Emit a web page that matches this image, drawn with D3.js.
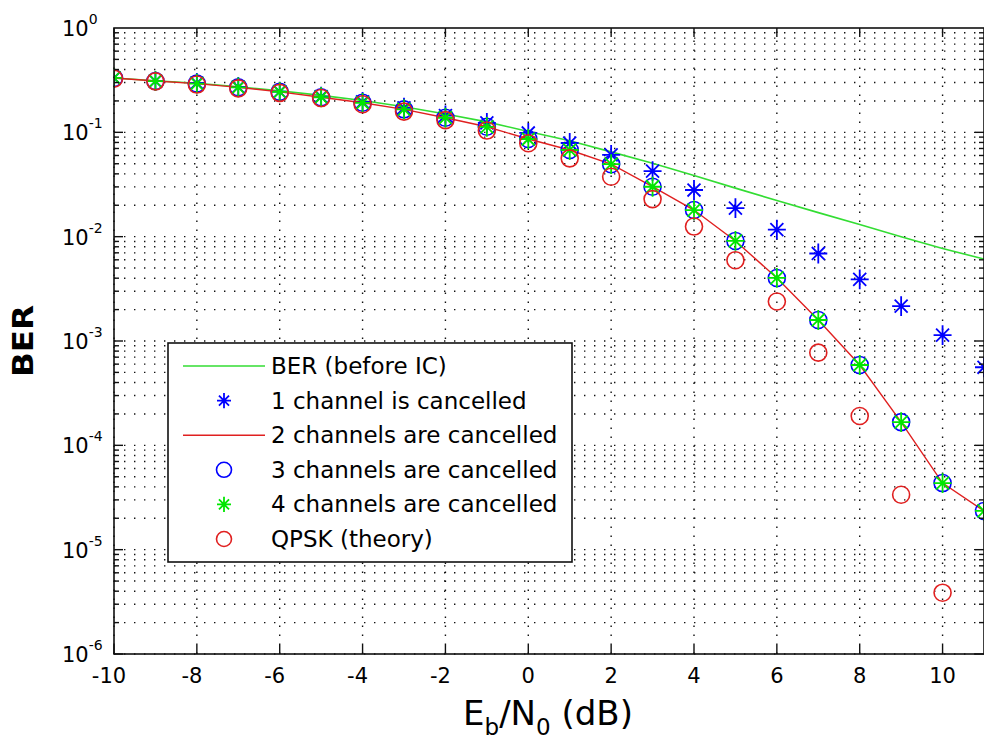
<!DOCTYPE html>
<html>
<head>
<meta charset="utf-8">
<script src="https://cdn.jsdelivr.net/npm/d3@7"></script>
<style>
  html, body { margin: 0; padding: 0; background: #fff; }
  svg { display: block; }
  text { font-family: "DejaVu Sans", sans-serif; fill: #000; }
</style>
</head>
<body>
<svg id="chart" width="984" height="746"></svg>
<script>
// ---------------- data ----------------
const ebn0 = [-10, -9, -8, -7, -6, -5, -4, -3, -2, -1, 0, 1, 2, 3, 4, 5, 6, 7, 8, 9, 10, 11];
const berBeforeIC = [0.332, 0.312, 0.295, 0.273, 0.250, 0.226, 0.202, 0.176, 0.150, 0.126, 0.102,
                     0.083, 0.065, 0.0505, 0.0385, 0.0292, 0.0222, 0.0170, 0.0131, 0.0100, 0.0077, 0.0061];
const ber1Cancelled = [0.332, 0.310, 0.297, 0.272, 0.246, 0.220, 0.196, 0.172, 0.145, 0.123, 0.0986,
                       0.079, 0.0607, 0.0425, 0.028, 0.0188, 0.0117, 0.0069, 0.0039, 0.00216, 0.00114, 0.00056];
const ber2Cancelled = [0.332, 0.310, 0.293, 0.270, 0.244, 0.217, 0.192, 0.166, 0.138, 0.113, 0.0863,
                       0.0677, 0.0495, 0.0301, 0.0180, 0.0091, 0.00402, 0.00159, 0.000589, 0.000167, 0.0000435, 0.0000235];
const ber3Cancelled = [0.332, 0.310, 0.293, 0.270, 0.244, 0.217, 0.192, 0.166, 0.138, 0.113, 0.0863,
                       0.0677, 0.0495, 0.0301, 0.0180, 0.0091, 0.00402, 0.00159, 0.000589, 0.000167, 0.0000435, 0.0000235];
const ber4Cancelled = [0.332, 0.310, 0.293, 0.270, 0.244, 0.217, 0.192, 0.166, 0.138, 0.113, 0.0863,
                       0.0677, 0.0495, 0.0301, 0.0180, 0.0091, 0.00402, 0.00159, 0.000589, 0.000167, 0.0000435, 0.0000235];
const ebn0Theory = [-10, -9, -8, -7, -6, -5, -4, -3, -2, -1, 0, 1, 2, 3, 4, 5, 6, 7, 8, 9, 10];
const qpskTheory = [0.327, 0.308, 0.287, 0.264, 0.239, 0.213, 0.186, 0.158, 0.131, 0.104, 0.0786,
                    0.0563, 0.0375, 0.0229, 0.0125, 0.00595, 0.00239, 0.000773, 0.000191, 0.0000336, 0.00000387];

const xTickValues = [-10, -8, -6, -4, -2, 0, 2, 4, 6, 8, 10];
const yDecadeExponents = [0, -1, -2, -3, -4, -5, -6];
const legendLabels = ["BER (before IC)", "1 channel is cancelled", "2 channels are cancelled",
                      "3 channels are cancelled", "4 channels are cancelled", "QPSK (theory)"];
const xLabelParts = [["E", 0], ["b", 1], ["/N", 0], ["0", 1], [" (dB)", 0]];
const yLabel = "BER";

// ---------------- layout ----------------
const L = 114, R = 984, T = 28, B = 654;
const svg = d3.select("#chart");
const x = d3.scaleLinear().domain([-10, 11]).range([L, R]);
const y = d3.scaleLog().domain([1e-6, 1]).range([B, T]);

const GREEN_LINE = "#33dd33", RED = "#e02020", BLUE = "#0000ff", GREEN = "#00e600";

// ---------------- grid ----------------
const grid = svg.append("g");
const minorY = [];
for (let e = -6; e < 0; e++) for (let m = 1; m <= 9; m++) minorY.push(m * Math.pow(10, e));
grid.selectAll("line.h").data(minorY).enter().append("line")
  .attr("x1", L).attr("x2", R).attr("y1", d => y(d)).attr("y2", d => y(d))
  .attr("stroke", "#111").attr("stroke-width", 1.4).attr("stroke-dasharray", "1.4,8.6");
grid.selectAll("line.v").data(xTickValues).enter().append("line")
  .attr("y1", B).attr("y2", T).attr("x1", d => x(d)).attr("x2", d => x(d))
  .attr("stroke", "#111").attr("stroke-width", 1.4).attr("stroke-dasharray", "1.4,7.6");

// ---------------- plot data ----------------
svg.append("clipPath").attr("id", "clip").append("rect")
  .attr("x", L).attr("y", T).attr("width", R - L).attr("height", B - T);
const plot = svg.append("g").attr("clip-path", "url(#clip)");

const lineGen = d3.line().x(d => x(d[0])).y(d => y(d[1]));
const zip = (xs, ys) => xs.map((v, i) => [v, ys[i]]);

function starPath(r) {
  const d = r * 0.72;
  return `M${-r},0L${r},0M0,${-r * 1.1}L0,${r * 1.1}M${-d},${-d}L${d},${d}M${-d},${d}L${d},${-d}`;
}
function drawStars(g, pts, color) {
  g.selectAll(null).data(pts).enter().append("path")
    .attr("d", starPath(9))
    .attr("transform", d => `translate(${x(d[0])},${y(d[1])})`)
    .attr("fill", "none").attr("stroke", color).attr("stroke-width", 1.8);
}
function drawCircles(g, pts, color) {
  g.selectAll(null).data(pts).enter().append("circle")
    .attr("cx", d => x(d[0])).attr("cy", d => y(d[1])).attr("r", 8.5)
    .attr("fill", "none").attr("stroke", color).attr("stroke-width", 1.6);
}

plot.append("path").datum(zip(ebn0, berBeforeIC)).attr("d", lineGen)
  .attr("fill", "none").attr("stroke", GREEN_LINE).attr("stroke-width", 1.6);
drawStars(plot.append("g"), zip(ebn0, ber1Cancelled), BLUE);
plot.append("path").datum(zip(ebn0, ber2Cancelled)).attr("d", lineGen)
  .attr("fill", "none").attr("stroke", RED).attr("stroke-width", 1.4);
drawCircles(plot.append("g"), zip(ebn0, ber3Cancelled), BLUE);
drawStars(plot.append("g"), zip(ebn0, ber4Cancelled), GREEN);
drawCircles(plot.append("g"), zip(ebn0Theory, qpskTheory), RED);

// ---------------- axes box & ticks ----------------
const ax = svg.append("g");
ax.append("rect").attr("x", L).attr("y", T).attr("width", R - L).attr("height", B - T)
  .attr("fill", "none").attr("stroke", "#111").attr("stroke-width", 1.6);

xTickValues.forEach(v => {
  ax.append("line").attr("x1", x(v)).attr("x2", x(v)).attr("y1", B).attr("y2", B - 9)
    .attr("stroke", "#111").attr("stroke-width", 1.4);
  ax.append("line").attr("x1", x(v)).attr("x2", x(v)).attr("y1", T).attr("y2", T + 9)
    .attr("stroke", "#111").attr("stroke-width", 1.4);
  ax.append("text").attr("x", x(v) + (v < 0 ? -5 : 0)).attr("y", B + 29)
    .attr("text-anchor", "middle").attr("font-size", 21).text(String(v));
});
minorY.forEach(v => {
  const isMajor = Math.abs(Math.log10(v) - Math.round(Math.log10(v))) < 1e-9;
  const len = isMajor ? 9 : 5;
  ax.append("line").attr("x1", L).attr("x2", L + len).attr("y1", y(v)).attr("y2", y(v))
    .attr("stroke", "#111").attr("stroke-width", 1.4);
  ax.append("line").attr("x1", R).attr("x2", R - len).attr("y1", y(v)).attr("y2", y(v))
    .attr("stroke", "#111").attr("stroke-width", 1.4);
});
yDecadeExponents.forEach(e => {
  const t = ax.append("text").attr("x", 62).attr("y", y(Math.pow(10, e)) + 8).attr("font-size", 21);
  t.append("tspan").text("10");
  t.append("tspan").attr("font-size", 14).attr("dy", -12).text(String(e));
});

// ---------------- axis labels ----------------
const xl = svg.append("text").attr("x", 548).attr("y", 725).attr("text-anchor", "middle")
  .attr("font-size", 34);
let prevSub = 0;
xLabelParts.forEach(([s, sub]) => {
  const ts = xl.append("tspan").text(s);
  if (sub) ts.attr("font-size", 23);
  const dy = (sub ? 10 : 0) - (prevSub ? 10 : 0);
  if (dy) ts.attr("dy", dy);
  prevSub = sub;
});
svg.append("text").attr("transform", "translate(33,341) rotate(-90)")
  .attr("text-anchor", "middle").attr("font-size", 29).attr("font-weight", "bold")
  .attr("textLength", 72).attr("lengthAdjust", "spacingAndGlyphs").text(yLabel);

// ---------------- legend ----------------
const lg = svg.append("g");
lg.append("rect").attr("x", 168).attr("y", 343).attr("width", 404).attr("height", 219)
  .attr("fill", "#fff").attr("stroke", "#111").attr("stroke-width", 1.6);
const rowY = i => 366 + i * 34.6;
const legendKinds = [["line", GREEN_LINE], ["star", BLUE], ["line", RED],
                     ["circle", BLUE], ["star", GREEN], ["circle", RED]];
legendKinds.forEach(([kind, color], i) => {
  const cy = rowY(i);
  if (kind === "line") {
    lg.append("line").attr("x1", 183).attr("x2", 265).attr("y1", cy).attr("y2", cy)
      .attr("stroke", color).attr("stroke-width", 1.6);
  } else if (kind === "star") {
    lg.append("path").attr("d", starPath(7)).attr("transform", `translate(224,${cy})`)
      .attr("fill", "none").attr("stroke", color).attr("stroke-width", 1.8);
  } else {
    lg.append("circle").attr("cx", 224).attr("cy", cy).attr("r", 7.5)
      .attr("fill", "none").attr("stroke", color).attr("stroke-width", 1.6);
  }
  lg.append("text").attr("x", 271).attr("y", cy + 8).attr("font-size", 23).text(legendLabels[i]);
});
</script>
</body>
</html>
